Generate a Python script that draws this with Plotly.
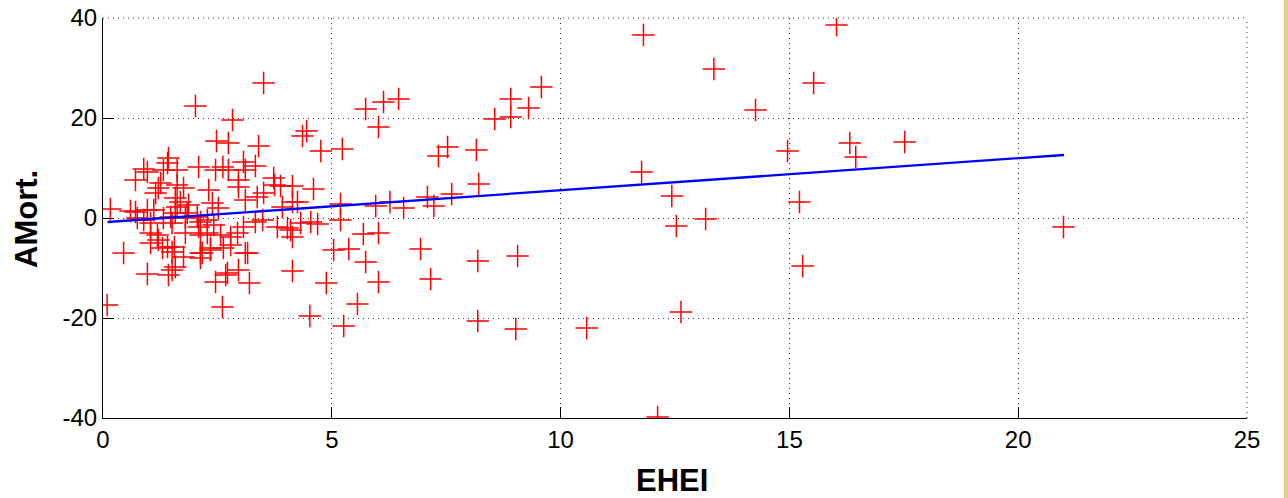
import plotly.graph_objects as go

# EHEI values (x) and AMort. values (y)
ehei = [16.03, 15.53, 14.96, 16.32, 16.45, 17.52, 15.22, 15.29, 20.99, 14.26,
        11.81, 13.35, 11.77, 12.43, 12.53, 13.17, 12.63, 12.12, 10.57, 9.02,
        8.19, 9.06, 8.19, 7.16, 6.94,
        9.58, 8.91, 8.91, 9.30, 8.56, 6.46, 6.13, 7.53, 7.33, 8.16, 8.21, 7.62, 7.09, 7.23, 6.27, 6.57,
        5.74, 6.02, 4.45, 4.36, 4.76, 5.23,
        4.14, 4.60, 3.88, 4.14, 4.25, 3.92, 5.19, 5.19, 5.96,
        4.03, 4.14, 4.32, 4.54, 4.69, 5.69, 6.02, 5.04, 5.37, 5.74,
        4.14, 4.88, 6.02, 5.56, 4.52, 5.26,
        3.51, 2.02, 2.83, 2.48, 2.74, 3.40, 1.43, 0.89, 0.97, 1.32, 1.62, 1.41, 0.71, 2.09, 2.46, 2.62, 2.74, 3.07, 3.11, 3.33,
        1.21, 1.15, 1.26, 1.62, 1.76, 1.58, 1.69, 2.31, 2.96, 2.96, 3.73, 3.75, 3.11, 3.37, 3.51,
        0.16, 0.60, 0.71, 0.97, 1.11, 1.62, 1.87, 2.39, 2.52, 1.84, 1.58,
        0.75, 0.89, 1.04, 1.32, 1.48, 1.51, 1.80, 2.06, 2.13, 2.28, 2.09,
        1.04, 1.19, 1.80, 2.13, 2.28, 2.42, 2.57, 2.79, 2.94, 3.07, 3.33, 3.49, 3.81, 4.10,
        0.45, 1.04, 1.21, 1.41, 1.51, 1.76, 2.13, 2.35, 2.63, 2.79, 3.16,
        0.97, 0.09, 1.30, 1.56, 1.43, 1.51, 1.58, 2.13, 2.17, 2.35, 2.46, 2.61, 2.68, 2.72, 2.96, 3.20, 3.11]

amort = [38.6, 27.0, 13.4, 15.0, 12.2, 15.2, 3.2, -9.6, -1.8, 21.6,
         36.6, 29.8, 9.2, 4.4, -1.6, -0.2, -18.8, -39.8, -22.0, -22.2,
         -20.6, -7.6, -8.6, -12.2, -6.2,
         26.2, 23.8, 20.2, 22.0, 19.8, 23.8, 23.2, 14.2, 12.4, 13.6, 6.8, 4.8, 4.2, 2.4, 3.2, 2.0,
         21.8, 18.2, 17.4, 16.4, 13.4, 13.8,
         6.4, 5.8, 6.4, 3.2, 3.2, 2.2, 2.8, -0.4, 2.4,
         -2.0, -3.8, -1.0, -0.8, -1.2, -3.2, -3.0, -6.4, -6.2, -8.8,
         -10.6, -13.0, -12.8, -17.2, -19.6, -21.6,
         27.0, 22.4, 19.6, 15.4, 15.0, 14.4, 12.0, 9.8, 9.2, 9.6, 9.6, 11.0, 7.6, 10.2, 9.6, 10.2, 9.6, 11.2, 9.6, 10.4,
         6.0, 5.0, 7.0, 6.6, 6.0, 4.0, 3.2, 5.6, 7.6, 6.2, 8.0, 6.6, 3.6, 4.2, 5.0,
         1.8, 1.4, 1.2, 1.6, 1.6, 2.2, 2.6, 3.0, 2.0, 1.0, 1.0,
         0.0, -0.4, -1.0, 0.0, 0.2, -1.0, 0.0, 0.2, -0.8, -0.4, -1.8,
         -3.0, -3.4, -3.0, -3.4, -3.0, -1.4, -3.4, -3.8, -3.0, -1.8, -0.8, -0.4, -1.8, -2.4,
         -7.0, -5.0, -4.4, -5.8, -6.8, -7.8, -7.0, -6.0, -6.0, -5.4, -7.0,
         -11.2, -17.4, -6.0, -5.8, -11.4, -10.4, -9.8, -8.0, -7.0, -6.4, -12.8, -17.8, -11.4, -11.0, -10.4, -13.0, -7.0]

# regression line end points
fit_x = [0.1, 21.0]
fit_y = [-0.8, 12.6]

x_ticks = [0, 5, 10, 15, 20, 25]
y_ticks = [-40, -20, 0, 20, 40]

DOT = "1px,4px"

fig = go.Figure()
fig.add_trace(go.Scatter(
    x=ehei, y=amort, mode="markers",
    marker=dict(symbol="cross-thin", size=16, color="red",
                line=dict(color="red", width=1.5)),
    showlegend=False))
fig.add_trace(go.Scatter(
    x=fit_x, y=fit_y, mode="lines",
    line=dict(color="#0000ff", width=2.3),
    showlegend=False))

axis_common = dict(
    showline=True, linecolor="black", linewidth=1, mirror=False,
    ticks="inside", ticklen=11, tickwidth=1, tickcolor="black",
    showgrid=True, gridcolor="#333333", gridwidth=1, griddash=DOT,
    zeroline=False, automargin=False,
    tickfont=dict(family="Arial, Liberation Sans", size=24, color="black"),
)

fig.update_xaxes(range=[0, 25], tickvals=x_ticks,
                 ticktext=[str(v) for v in x_ticks], **axis_common)
fig.update_yaxes(range=[-40, 40], tickvals=y_ticks,
                 ticktext=[str(v) for v in y_ticks], **axis_common)

# dotted box edges at top and right (grid lines at the range limits)
fig.add_shape(type="line", xref="x domain", yref="y domain",
              x0=0, x1=1, y0=1, y1=1,
              line=dict(color="#333333", width=1, dash=DOT))
fig.add_shape(type="line", xref="x domain", yref="y domain",
              x0=1, x1=1, y0=0, y1=1,
              line=dict(color="#333333", width=1, dash=DOT))

fig.add_annotation(text="<b>EHEI</b>", xref="paper", yref="paper",
                   x=(672 - 103) / 1144, y=(418 - 480) / 400,
                   xanchor="center", yanchor="middle", showarrow=False,
                   font=dict(family="Arial, Liberation Sans", size=31, color="black"))
fig.add_annotation(text="<b>AMort.</b>", xref="paper", yref="paper",
                   x=(27 - 103) / 1144, y=(418 - 219) / 400, textangle=-90,
                   xanchor="center", yanchor="middle", showarrow=False,
                   font=dict(family="Arial, Liberation Sans", size=31, color="black"))

# tan border strip at right edge of the page
fig.add_shape(type="rect", xref="paper", yref="paper",
              x0=(1284 - 103) / 1144, x1=(1290 - 103) / 1144, y0=-0.5, y1=1.2,
              fillcolor="#e8c990", line=dict(width=0), layer="below")

fig.update_layout(
    width=1288, height=498,
    margin=dict(l=103, r=41, t=18, b=80, autoexpand=False),
    paper_bgcolor="white", plot_bgcolor="white",
    font=dict(family="Arial, Liberation Sans", color="black"),
)

fig.write_html("out.html")
